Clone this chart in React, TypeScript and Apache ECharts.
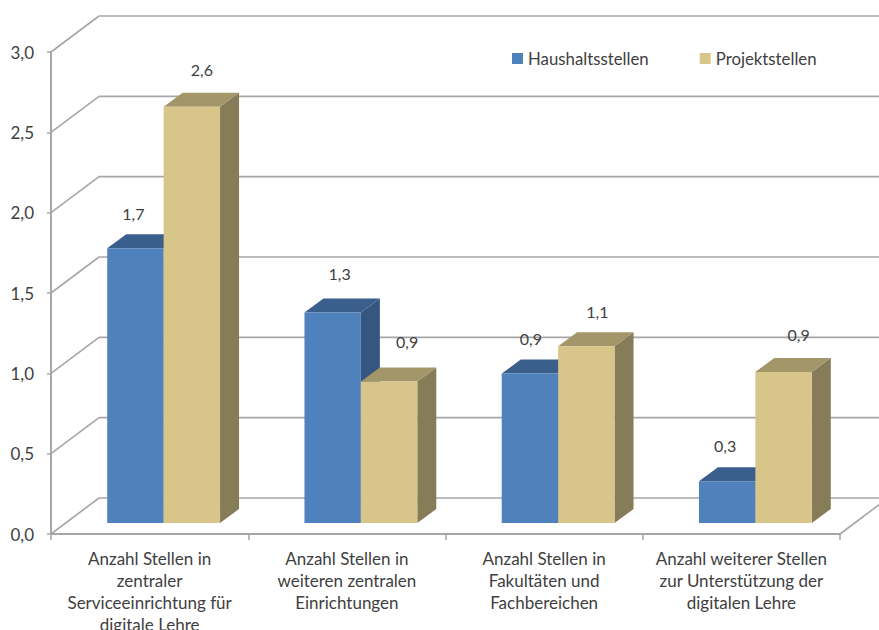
import React, { useEffect, useRef } from "react";
import * as echarts from "echarts";

const categories = [
  "Anzahl Stellen in\nzentraler\nServiceeinrichtung für\ndigitale Lehre",
  "Anzahl Stellen in\nweiteren zentralen\nEinrichtungen",
  "Anzahl Stellen in\nFakultäten und\nFachbereichen",
  "Anzahl weiterer Stellen\nzur Unterstützung der\ndigitalen Lehre",
];
const haushaltsstellen = [1.71, 1.31, 0.93, 0.26];
const projektstellen = [2.59, 0.88, 1.1, 0.94];
const yTicks = [0, 0.5, 1, 1.5, 2, 2.5, 3];

const FONT = "Lato, 'Noto Sans', sans-serif";
const TEXT = "#404040";
const GRID = "#a6a6a6";
const DX = 48; // wall depth
const DY = 36;
const BAR_DX = 19; // bar depth
const BAR_DY = 14;
const FLOOR_X = 14; // bar offset on the floor
const FLOOR_Y = 11;
const fmt = (v: number) => v.toFixed(1).replace(".", ",");

// Hand-placed label offsets in the original chart, relative to the bar's front top centre
const blueLabelOffset = [[-2, -35], [7, -39], [1, -35], [-2, -36]];
const yellowLabelOffset = [[10, -37], [18, -40], [11, -35], [15, -37]];

function barSeries(name: string, values: number[], side: -1 | 1, colors: string[], offsets: number[][]) {
  return {
    type: "custom",
    name,
    itemStyle: { color: colors[0] },
    encode: { x: 0, y: 1 },
    data: values.map((v, i) => [i, v]),
    z: 3,
    renderItem: (_p: any, api: any) => {
      const i = api.value(0);
      const v = api.value(1);
      const top = api.coord([i, v]);
      const base = api.coord([i, 0]);
      const w = api.size([1, 0])[0] * 0.286;
      const cx = top[0] + FLOOR_X;
      const x0 = side < 0 ? cx - w : cx;
      const x1 = x0 + w;
      const yT = top[1] - FLOOR_Y;
      const yB = base[1] - FLOOR_Y;
      const off = offsets[i];
      return {
        type: "group",
        children: [
          {
            type: "polygon",
            shape: { points: [[x1, yT], [x1 + BAR_DX, yT - BAR_DY], [x1 + BAR_DX, yB - BAR_DY], [x1, yB]] },
            style: { fill: colors[2] },
          },
          {
            type: "polygon",
            shape: { points: [[x0, yT], [x0 + BAR_DX, yT - BAR_DY], [x1 + BAR_DX, yT - BAR_DY], [x1, yT]] },
            style: { fill: colors[1] },
          },
          { type: "rect", shape: { x: x0, y: yT, width: w, height: yB - yT }, style: { fill: colors[0] } },
          {
            type: "text",
            x: x0 + w / 2 + off[0],
            y: yT + off[1],
            style: {
              text: fmt(v),
              fill: TEXT,
              fontSize: 16,
              fontFamily: FONT,
              align: "center",
              verticalAlign: "middle",
            },
          },
        ],
      };
    },
  };
}

const wallSeries = {
  type: "custom",
  name: "wall",
  encode: { x: 0, y: 1 },
  data: yTicks.map((t) => [0, t]),
  z: 1,
  renderItem: (p: any, api: any) => {
    const y = api.coord([0, api.value(1)])[1];
    const left = p.coordSys.x;
    const right = left + p.coordSys.width;
    const style = { stroke: GRID, lineWidth: 1.6, fill: "none" };
    const children: any[] = [
      { type: "line", shape: { x1: left, y1: y, x2: left + DX, y2: y - DY }, style },
      { type: "line", shape: { x1: left + DX, y1: y - DY, x2: right + DX, y2: y - DY }, style },
    ];
    if (api.value(1) === 0) {
      children.push({ type: "line", shape: { x1: right, y1: y, x2: right + DX, y2: y - DY }, style });
    }
    return { type: "group", children };
  },
};

export default function App() {
  const ref = useRef<HTMLDivElement>(null);
  useEffect(() => {
    const chart = echarts.init(ref.current!, undefined, { renderer: "svg" });
    chart.setOption({
      animation: false,
      backgroundColor: "#ffffff",
      legend: {
        data: ["Haushaltsstellen", "Projektstellen"],
        left: 512,
        top: 50,
        icon: "rect",
        itemWidth: 11,
        itemHeight: 11,
        itemGap: 51,
        textStyle: { color: TEXT, fontSize: 16.8, fontFamily: FONT },
        padding: 0,
        selectedMode: false,
      },
      grid: { left: 51, top: 52, width: 789, height: 482, outerBoundsMode: "none" },
      xAxis: {
        type: "category",
        data: categories,
        axisLine: { lineStyle: { color: GRID, width: 2 } },
        axisTick: { show: true, length: 6, alignWithLabel: false, lineStyle: { color: GRID, width: 1.5 } },
        axisLabel: { color: TEXT, fontSize: 17, fontFamily: FONT, lineHeight: 22, margin: 13, interval: 0 },
      },
      yAxis: {
        type: "value",
        min: 0,
        max: 3,
        interval: 0.5,
        axisLine: { show: true, lineStyle: { color: GRID, width: 2 } },
        axisTick: { show: true, length: 4, lineStyle: { color: GRID, width: 1.5 } },
        splitLine: { show: false },
        axisLabel: { color: TEXT, fontSize: 17, fontFamily: FONT, margin: 17, formatter: (v: number) => fmt(v) },
      },
      series: [
        wallSeries,
        barSeries("Haushaltsstellen", haushaltsstellen, -1, ["#4f81bd", "#3b5f8c", "#35567e"], blueLabelOffset),
        barSeries("Projektstellen", projektstellen, 1, ["#d8c58a", "#a39669", "#877c58"], yellowLabelOffset),
      ],
    });
    return () => chart.dispose();
  }, []);
  return <div ref={ref} style={{ position: "fixed", left: 0, top: 0, width: 879, height: 630 }} />;
}
